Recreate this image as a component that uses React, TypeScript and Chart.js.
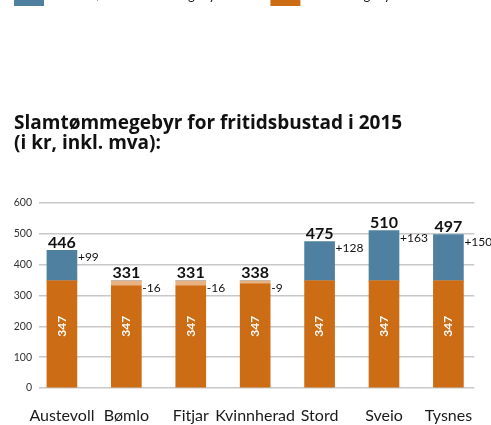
import React, { useEffect, useRef } from 'react';
import { Chart, registerables } from 'chart.js';

Chart.register(...registerables);

const categories = ['Austevoll', 'Bømlo', 'Fitjar', 'Kvinnherad', 'Stord', 'Sveio', 'Tysnes'];
const referenceValues = [347, 347, 347, 347, 347, 347, 347];
const baseValues = [347, 331, 331, 338, 347, 347, 347];
const reductionValues = [0, 16, 16, 9, 0, 0, 0];
const increaseValues = [99, 0, 0, 0, 128, 163, 150];
const totalValues = [446, 331, 331, 338, 475, 510, 497];
const deltaValues = [99, -16, -16, -9, 128, 163, 150];
const yTickValues = [0, 100, 200, 300, 400, 500, 600];

const titleLines = ['Slamtømmegebyr for fritidsbustad i 2015', '(i kr, inkl. mva):'];
const legendTexts = ['Auke i høve til referansegebyret\u2002\u2002\u2002\u2002\u2002\u2002', 'Referansegebyr'];

const FONT = 'Lato, "Open Sans", sans-serif';
const TITLE_FONT = '"Open Sans", Lato, sans-serif';
const ORANGE = '#CC6C14';
const BLUE = '#4F80A0';
const PEACH = '#E8B282';

const labelPlugin = {
  id: 'barLabels',
  afterDatasetsDraw(chart: any) {
    const { ctx, scales } = chart;
    const x = scales.x;
    const y = scales.y;
    const meta = chart.getDatasetMeta(0);
    ctx.save();
    categories.forEach((_, i) => {
      const bar: any = meta.data[i];
      const cx = x.getPixelForValue(i);
      const half = bar.width / 2;
      const topVal = Math.max(totalValues[i], referenceValues[i]);
      const yTop = y.getPixelForValue(topVal);

      ctx.fillStyle = '#111';
      ctx.font = `bold 16px ${FONT}`;
      ctx.textAlign = 'center';
      ctx.textBaseline = 'middle';
      ctx.fillText(String(totalValues[i]), cx, yTop - 8);

      ctx.font = `12px ${FONT}`;
      ctx.textAlign = 'left';
      const d = deltaValues[i];
      ctx.fillText((d > 0 ? '+' : '') + String(d), cx + half + 1, yTop + 7);

      ctx.save();
      ctx.translate(cx, y.getPixelForValue(200));
      ctx.rotate(-Math.PI / 2);
      ctx.fillStyle = '#ffffff';
      ctx.font = `bold 12px ${FONT}`;
      ctx.textAlign = 'center';
      ctx.textBaseline = 'middle';
      ctx.fillText(String(referenceValues[i]), 0, 0);
      ctx.restore();
    });
    ctx.restore();
  },
};

export default function App() {
  const ref = useRef<HTMLCanvasElement>(null);
  useEffect(() => {
    if (!ref.current) return;
    const chart = new Chart(ref.current, {
      type: 'bar',
      data: {
        datasets: [
          {
            label: legendTexts[1],
            data: categories.map((_, i) => ({ x: i, y: baseValues[i] })),
            backgroundColor: ORANGE,
          },
          {
            label: 'reduksjon',
            data: categories.map((_, i) => ({ x: i, y: reductionValues[i] })),
            backgroundColor: PEACH,
          },
          {
            label: legendTexts[0],
            data: categories.map((_, i) => ({ x: i, y: increaseValues[i] })),
            backgroundColor: BLUE,
          },
        ],
      },
      options: {
        responsive: false,
        animation: false,
        layout: { padding: { left: 14, right: 15, top: 0, bottom: 0 } },
        barThickness: 30,
        plugins: {
          tooltip: { enabled: false },
          legend: {
            display: true,
            position: 'top',
            align: 'start',
            weight: 3000,
            labels: {
              boxWidth: 30,
              boxHeight: 20,
              padding: 0,
              color: '#111',
              font: { family: FONT, size: 13 },
              filter: (item: any) => item.datasetIndex !== 1,
              sort: (a: any, b: any) => b.datasetIndex - a.datasetIndex,
            },
          },
          title: {
            display: true,
            text: titleLines,
            align: 'start',
            position: 'top',
            weight: 500,
            color: '#111',
            font: { family: TITLE_FONT, size: 19, weight: 'bold', lineHeight: 1.05 },
            padding: { top: 98, bottom: 49 },
          },
        },
        scales: {
          x: {
            type: 'linear',
            stacked: true,
            offset: false,
            min: -0.356,
            max: 6.402,
            grid: { display: false, drawTicks: false },
            border: { display: false },
            afterBuildTicks: (scale: any) => {
              scale.ticks = categories.map((_, i) => ({ value: i }));
            },
            afterFit: (scale: any) => {
              scale.height = 37;
            },
            ticks: {
              padding: 18,
              color: '#1a1a1a',
              font: { family: FONT, size: 16 },
              autoSkip: false,
              maxRotation: 0,
              minRotation: 0,
              callback: (v: any) => categories[v] ?? '',
            },
          },
          y: {
            stacked: true,
            min: 0,
            max: 600,
            afterFit: (scale: any) => {
              scale.width = 25;
            },
            afterBuildTicks: (scale: any) => {
              scale.ticks = yTickValues.map((v) => ({ value: v }));
            },
            grid: { color: '#c8c8c8', lineWidth: 1.5, drawTicks: false },
            border: { display: false },
            ticks: {
              padding: 7,
              color: '#333',
              font: { family: FONT, size: 10.5 },
            },
          },
        },
      } as any,
      plugins: [labelPlugin],
    });
    return () => chart.destroy();
  }, []);

  return (
    <div style={{ position: 'fixed', left: 0, top: -14, width: 491, height: 439 }}>
      <canvas ref={ref} width={491} height={439} style={{ display: 'block' }} />
    </div>
  );
}
